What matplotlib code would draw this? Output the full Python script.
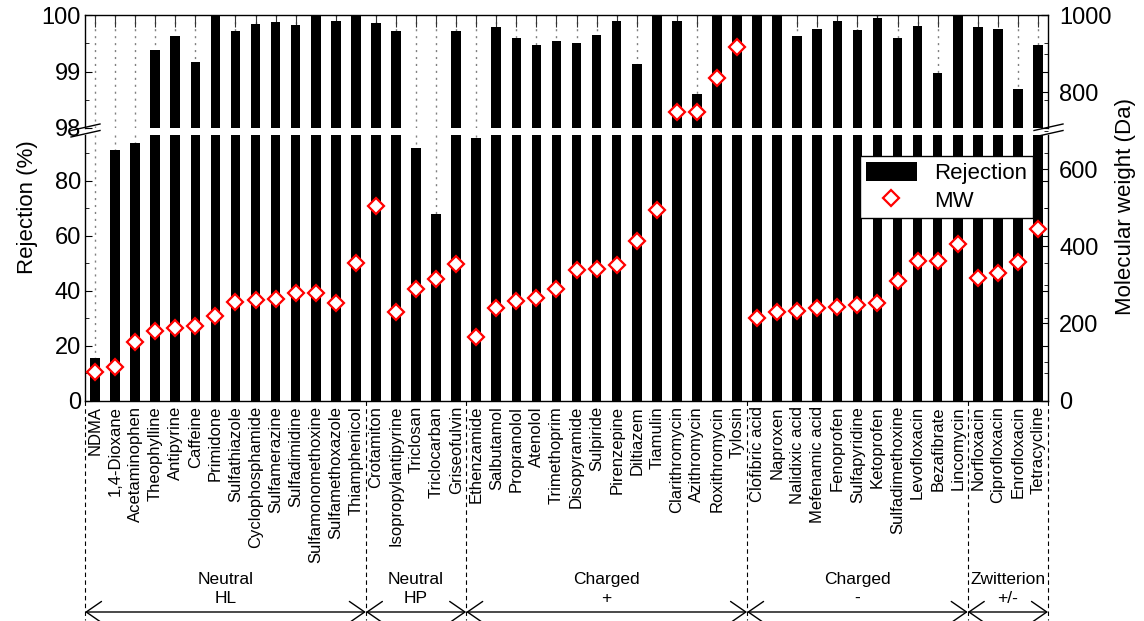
import numpy as np
import matplotlib
matplotlib.use("Agg")
import matplotlib.pyplot as plt
from matplotlib.lines import Line2D
from matplotlib.transforms import blended_transform_factory
from matplotlib.ticker import MultipleLocator, FixedLocator

font_size = 16
tick_size = 17
plt.rcParams['font.family'] = ['Liberation Sans', 'DejaVu Sans']
plt.rcParams['axes.linewidth'] = 1.0

compounds = ['NDMA', '1,4-Dioxane', 'Acetaminophen', 'Theophylline', 'Antipyrine', 'Caffeine',
             'Primidone', 'Sulfathiazole', 'Cyclophosphamide', 'Sulfamerazine', 'Sulfadimidine',
             'Sulfamonomethoxine', 'Sulfamethoxazole', 'Thiamphenicol',
             'Crotamiton', 'Isopropylantipyrine', 'Triclosan', 'Triclocarban', 'Griseofulvin',
             'Ethenzamide', 'Salbutamol', 'Propranolol', 'Atenolol', 'Trimethoprim', 'Disopyramide',
             'Sulpiride', 'Pirenzepine', 'Diltiazem', 'Tiamulin', 'Clarithromycin', 'Azithromycin',
             'Roxithromycin', 'Tylosin',
             'Clofibric acid', 'Naproxen', 'Nalidixic acid', 'Mefenamic acid', 'Fenoprofen',
             'Sulfapyridine', 'Ketoprofen', 'Sulfadimethoxine', 'Levofloxacin', 'Bezafibrate',
             'Lincomycin',
             'Norfloxacin', 'Ciprofloxacin', 'Enrofloxacin', 'Tetracycline']

rejection = [15.6, 91.3, 93.7, 99.38, 99.63, 99.17, 100.0, 99.72, 99.84, 99.87, 99.83,
             100.0, 99.89, 100.0,
             99.86, 99.71, 92.1, 67.8, 99.71,
             95.6, 99.79, 99.59, 99.47, 99.54, 99.50, 99.64, 99.90, 99.14, 99.98, 99.90,
             98.61, 100.0, 100.0,
             100.0, 100.0, 99.62, 99.75, 99.90, 99.73, 99.94, 99.60, 99.81, 98.98, 100.0,
             99.79, 99.75, 98.69, 99.47]

mw = [74, 88, 151, 180, 188, 194, 218, 255, 261, 264, 278, 280, 253, 356,
      505, 230, 289, 315, 353,
      165, 239, 259, 266, 290, 339, 341, 351, 414, 494, 748, 749, 837, 916,
      215, 230, 232, 241, 242, 249, 254, 310, 361, 361, 406,
      319, 331, 359, 444]

group_names = ['Neutral\nHL', 'Neutral\nHP', 'Charged\n+', 'Charged\n-', 'Zwitterion\n+/-']
group_sizes = [14, 5, 14, 11, 4]

W, H = 1144, 621
fig = plt.figure(figsize=(W / 100, H / 100), dpi=100)

def fx(px):
    return px / W

def fy(py):
    return 1 - py / H

x_left, x_right = 85, 1048
y_top, y_brk_hi, y_brk_lo, y_bot = 15, 128, 135, 400.5

ax_top = fig.add_axes([fx(x_left), fy(y_brk_hi), fx(x_right) - fx(x_left), fy(y_top) - fy(y_brk_hi)])
ax_low = fig.add_axes([fx(x_left), fy(y_bot), fx(x_right) - fx(x_left), fy(y_brk_lo) - fy(y_bot)])
ax_mw = fig.add_axes([fx(x_left), fy(y_bot), fx(x_right) - fx(x_left), fy(y_top) - fy(y_bot)])

ind = np.arange(len(compounds))
width = 0.48

for ax in [ax_top, ax_low]:
    ax.set_axisbelow(True)
    bars = ax.bar(ind, rejection, width, color='black', edgecolor='none', zorder=2)
    ax.set_xlim(-0.5, len(compounds) - 0.5)
    ax.set_xticks(ind)
    ax.grid(True, axis='x', color='#808080', linestyle=(0, (1.5, 3.5)), lw=1.0, zorder=0)
    ax.tick_params(axis='y', which='both', direction='in', right=True, labelsize=tick_size, pad=3)
    ax.tick_params(axis='y', which='major', length=5)
    ax.tick_params(axis='y', which='minor', length=3)

ax_top.set_ylim(98, 100)
ax_top.yaxis.set_major_locator(FixedLocator([98, 99, 100]))
ax_top.yaxis.set_minor_locator(MultipleLocator(0.5))
ax_top.spines['bottom'].set_visible(False)
ax_top.tick_params(axis='x', which='both', bottom=False, labelbottom=False, top=True,
                   direction='in', length=8.5, color='#333333')

ax_low.set_ylim(0, 96.7)
ax_low.yaxis.set_major_locator(FixedLocator([0, 20, 40, 60, 80]))
ax_low.yaxis.set_minor_locator(MultipleLocator(10))
ax_low.spines['top'].set_visible(False)
ax_low.set_xticklabels(compounds, rotation=90, fontsize=12)
ax_low.tick_params(axis='x', which='both', direction='in', length=4, pad=4, top=False)

# molecular weight on the right axis, spanning the whole height
ax_mw.patch.set_visible(False)
for s in ax_mw.spines.values():
    s.set_visible(False)
ax_mw.set_xlim(-0.5, len(compounds) - 0.5)
ax_mw.set_ylim(0, 1000)
ax_mw.set_xticks([])
ax_mw.yaxis.tick_right()
ax_mw.yaxis.set_label_position('right')
ax_mw.yaxis.set_major_locator(MultipleLocator(200))
ax_mw.yaxis.set_minor_locator(MultipleLocator(100))
ax_mw.tick_params(axis='y', which='both', direction='in', left=False, labelsize=tick_size, pad=8)
ax_mw.tick_params(axis='y', which='major', length=5)
ax_mw.tick_params(axis='y', which='minor', length=3)
mw_line, = ax_mw.plot(ind, mw, linestyle='none', marker='D', markersize=8,
                      markerfacecolor='white', markeredgecolor='#ff0000', markeredgewidth=1.6,
                      zorder=5, clip_on=False)

leg = ax_mw.legend([bars, mw_line], ['Rejection', 'MW'], loc='upper right',
                   bbox_to_anchor=(fx(1033), fy(156)), bbox_transform=fig.transFigure,
                   fontsize=font_size, frameon=True, fancybox=False, edgecolor='black',
                   framealpha=1, handlelength=2.3, handleheight=1.0, labelspacing=0.25,
                   borderpad=0.25, handletextpad=0.8, borderaxespad=0)
leg.get_frame().set_linewidth(1.0)
leg.set_zorder(10)

fig.text(fx(28), fy(207), 'Rejection (%)', rotation=90, ha='center', va='center', fontsize=font_size)
fig.text(fx(1126), fy(207), 'Molecular weight (Da)', rotation=90, ha='center', va='center',
         fontsize=font_size)

# break marks
for xc in [x_left, x_right]:
    for dy in [0, 6.5]:
        fig.add_artist(Line2D([fx(xc - 14), fx(xc + 15)], [fy(130.5 + dy), fy(124 + dy)],
                              transform=fig.transFigure, color='black', lw=1.0))

# group annotations below the axis
trans = blended_transform_factory(ax_low.transData, fig.transFigure)
edges = np.concatenate([[0], np.cumsum(group_sizes)]) - 0.5
for e in edges:
    ax_low.plot([e, e], [fy(401), fy(620)], transform=trans, color='black', lw=0.8,
                linestyle=(0, (4, 3)), clip_on=False)
for i in range(len(group_names)):
    x0, x1 = edges[i], edges[i + 1]
    ax_low.annotate('', xy=(x1, fy(612)), xytext=(x0, fy(612)), xycoords=trans, textcoords=trans,
                    arrowprops=dict(arrowstyle='<->,head_length=0.55,head_width=0.38',
                                    mutation_scale=20, lw=1.0, color='black',
                                    shrinkA=0, shrinkB=0), annotation_clip=False)
    ax_low.text((x0 + x1) / 2, fy(589), group_names[i], transform=trans, ha='center', va='center',
                fontsize=12.5, linespacing=1.3,
                family=['Liberation Sans Narrow', 'Liberation Sans'])

fig.savefig('out.png', dpi=100)
